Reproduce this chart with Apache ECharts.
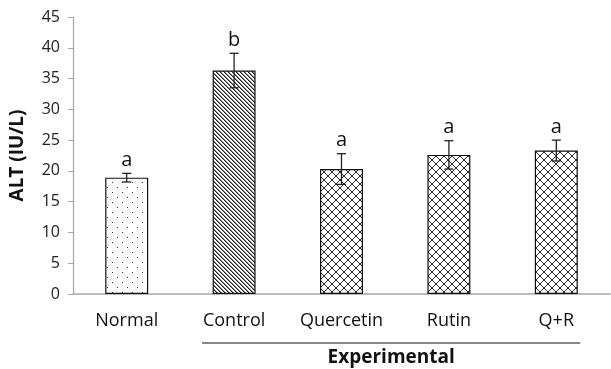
<!DOCTYPE html>
<html><head><meta charset="utf-8">
<script src="https://cdn.jsdelivr.net/npm/echarts@6/dist/echarts.min.js"></script>
<style>html,body{margin:0;padding:0;background:#fff}#c{width:611px;height:369px}</style>
</head><body><div id="c"></div>
<script>
var categories = ['Normal', 'Control', 'Quercetin', 'Rutin', 'Q+R'];
var means = [18.9, 36.3, 20.3, 22.6, 23.3];
var errors = [0.7, 2.8, 2.5, 2.3, 1.7];
var letters = ['a', 'b', 'a', 'a', 'a'];
var patterns = ['dots', 'hatch', 'cross', 'cross', 'cross'];
var groupLabel = 'Experimental';
var FONT = '"Open Sans", sans-serif';

function makePattern(kind) {
  var c = document.createElement('canvas');
  var ctx = c.getContext('2d');
  if (kind === 'dots') {
    c.width = 10; c.height = 10;
    ctx.fillStyle = '#fff'; ctx.fillRect(0, 0, 10, 10);
    ctx.fillStyle = '#333';
    ctx.fillRect(2, 2, 1, 1); ctx.fillRect(7, 7, 1, 1);
  } else if (kind === 'hatch') {
    c.width = 4; c.height = 4;
    ctx.fillStyle = '#fff'; ctx.fillRect(0, 0, 4, 4);
    ctx.fillStyle = '#222';
    for (var i = 0; i < 4; i++) { ctx.fillRect(i, i, 1, 1); }
    ctx.fillStyle = '#888';
    for (var j = 0; j < 4; j++) { ctx.fillRect((j + 1) % 4, j, 1, 1); }
  } else {
    c.width = 8; c.height = 8;
    ctx.fillStyle = '#fff'; ctx.fillRect(0, 0, 8, 8);
    ctx.fillStyle = '#2a2a2a';
    for (var k = 0; k < 8; k++) { ctx.fillRect(k, k, 1, 1); ctx.fillRect(7 - k, k, 1, 1); }
  }
  return { image: c, repeat: 'repeat' };
}

var barData = means.map(function (v, i) {
  return { value: v, itemStyle: { color: makePattern(patterns[i]) } };
});
var errData = means.map(function (v, i) { return [i, v - errors[i], v + errors[i]]; });

var chart = echarts.init(document.getElementById('c'));
chart.setOption({
  animation: false,
  grid: { left: 72, right: 1, top: 17, bottom: 75, containLabel: false },
  xAxis: {
    type: 'category', data: categories,
    axisLine: { lineStyle: { color: '#a6a6a6', width: 1.5 } },
    axisTick: { show: false },
    axisLabel: { interval: 0, hideOverlap: false, color: '#111', fontSize: 18, fontFamily: FONT, margin: 18 }
  },
  yAxis: {
    type: 'value', min: 0, max: 45, interval: 5,
    name: 'ALT (IU/L)', nameLocation: 'middle', nameGap: 46,
    nameTextStyle: { fontSize: 19, fontWeight: 'bold', color: '#111', fontFamily: FONT },
    axisLine: { show: true, lineStyle: { color: '#a6a6a6', width: 1.2 } },
    axisTick: { show: true, length: 5, lineStyle: { color: '#a6a6a6' } },
    splitLine: { show: false },
    axisLabel: { color: '#222', fontSize: 16, fontFamily: FONT, margin: 13 }
  },
  series: [{
    type: 'bar', data: barData, barWidth: '40%',
    itemStyle: { borderColor: '#111', borderWidth: 1.2 }
  }, {
    type: 'custom', data: errData, z: 10,
    renderItem: function (params, api) {
      var x = api.coord([api.value(0), 0])[0];
      var lo = api.coord([api.value(0), api.value(1)])[1];
      var hi = api.coord([api.value(0), api.value(2)])[1];
      var cap = 4.5;
      var st = { stroke: '#222', lineWidth: 1.3 };
      return {
        type: 'group', children: [
          { type: 'line', shape: { x1: x, y1: lo, x2: x, y2: hi }, style: st },
          { type: 'line', shape: { x1: x - cap, y1: lo, x2: x + cap, y2: lo }, style: st },
          { type: 'line', shape: { x1: x - cap, y1: hi, x2: x + cap, y2: hi }, style: st },
          { type: 'text', style: { text: letters[params.dataIndex], x: x, y: hi - 3, align: 'center', verticalAlign: 'bottom', fontSize: 20, fontFamily: FONT, fill: '#111' } }
        ]
      };
    }
  }]
});

var x1 = chart.convertToPixel({ xAxisIndex: 0 }, 1) - 32;
var x2 = chart.convertToPixel({ xAxisIndex: 0 }, 4) + 24;
var yBase = chart.convertToPixel({ yAxisIndex: 0 }, 0);
chart.setOption({
  graphic: [
    { type: 'line', shape: { x1: x1, y1: yBase + 49, x2: x2, y2: yBase + 49 }, style: { stroke: '#111', lineWidth: 1.2 } },
    { type: 'text', style: { text: groupLabel, x: (x1 + x2) / 2, y: yBase + 64, align: 'center', verticalAlign: 'middle', fontSize: 19, fontWeight: 'bold', fontFamily: FONT, fill: '#111' } }
  ]
});
</script></body></html>
